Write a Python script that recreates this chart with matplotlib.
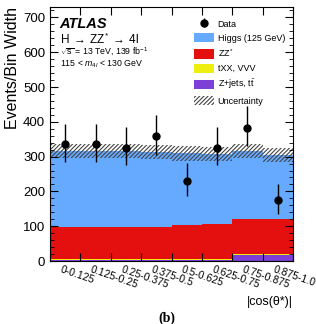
import matplotlib
matplotlib.use("Agg")
import matplotlib.pyplot as plt
import numpy as np
from matplotlib.patches import Patch
from matplotlib.ticker import MultipleLocator

plt.rcParams["font.family"] = ["Liberation Sans", "DejaVu Sans"]
plt.rcParams["mathtext.fontset"] = "custom"
plt.rcParams["mathtext.rm"] = "Liberation Sans"
plt.rcParams["mathtext.it"] = "Liberation Sans:italic"
plt.rcParams["hatch.color"] = "#444444"
plt.rcParams["hatch.linewidth"] = 0.8

# |cos(theta*)| bins
bin_labels = ["0-0.125", "0.125-0.25", "0.25-0.375", "0.375-0.5",
              "0.5-0.625", "0.625-0.75", "0.75-0.875", "0.875-1.0"]

# stacked predictions (events / bin width)
zjets = [3, 3, 3, 3, 3, 3, 17, 17]
txx = [2, 2, 2, 2, 2, 2, 2, 2]
zz = [92, 92, 92, 92, 99, 101, 102, 102]
higgs = [220, 220, 219, 215, 205, 202, 194, 184]
unc = [20, 20, 20, 20, 21, 21, 20, 20]

# data with asymmetric errors
data = [335, 335, 326, 358, 230, 326, 382, 174]
data_up = [60, 60, 60, 62, 52, 60, 63, 46]
data_dn = [50, 50, 50, 53, 44, 50, 52, 38]

c_higgs = "#66aaff"
c_zz = "#e3100f"
c_txx = "#eeee11"
c_zjets = "#7d3fd6"

fig = plt.figure(figsize=(3.16, 3.24), dpi=100)
ax = fig.add_axes([50 / 316, 1 - 261 / 324, 243 / 316, 254 / 324])

x = np.arange(len(bin_labels)) + 0.5
bottom = np.zeros(len(x))
for vals, col in [(zjets, c_zjets), (txx, c_txx), (zz, c_zz), (higgs, c_higgs)]:
    ax.bar(x, vals, width=1.0, bottom=bottom, color=col, linewidth=0)
    bottom = bottom + np.array(vals)

total = bottom
unc = np.array(unc)
ax.bar(x, 2 * unc, width=1.0, bottom=total - unc, fill=False,
       hatch="////////", linewidth=0, edgecolor="#444444")

eb = ax.errorbar(x, data, yerr=[data_dn, data_up], fmt="o", color="black",
                 markersize=5, elinewidth=1.0, capsize=0)

ax.set_xlim(0, len(x))
ax.set_ylim(0, 730)
ax.set_xticks(np.arange(len(x) + 1))
ax.set_xticklabels([])
for xi, lab in zip(x, bin_labels):
    ax.text(xi - 0.1, -10, lab, rotation=-19, rotation_mode="anchor",
            ha="left", va="top", fontsize=7.5)
ax.yaxis.set_major_locator(MultipleLocator(100))
ax.yaxis.set_minor_locator(MultipleLocator(20))
ax.tick_params(axis="both", which="both", direction="in", top=True, right=True)
ax.tick_params(axis="both", which="major", length=6, labelsize=9.5)
ax.tick_params(axis="y", which="minor", length=3)
ax.set_ylabel("Events/Bin Width", fontsize=11.5, loc="top", labelpad=2)

fig.text(293 / 316, 1 - 302 / 324, "|cos(θ*)|", ha="right",
         va="center", fontsize=9)
fig.text(167 / 316, 1 - 318 / 324, "(b)", ha="center", va="center",
         fontsize=10, fontweight="bold", family="Liberation Serif")

ax.text(0.04, 0.932, "ATLAS", transform=ax.transAxes, fontsize=10.5,
        fontweight="bold", style="italic", va="center")
ax.text(0.04, 0.872,
        r"$\mathrm{H}\;\rightarrow\;\mathrm{ZZ}^{*}\;\rightarrow\;\mathrm{4l}$",
        transform=ax.transAxes, fontsize=8.5, va="center")
ax.text(0.04, 0.822, r"$\sqrt{\rm s}$ = 13 TeV, 139 fb$^{-1}$",
        transform=ax.transAxes, fontsize=6.3, va="center")
ax.text(0.04, 0.776, r"115 < $m_{4l}$ < 130 GeV",
        transform=ax.transAxes, fontsize=6.3, va="center")

handles = [
    eb,
    Patch(facecolor=c_higgs),
    Patch(facecolor=c_zz),
    Patch(facecolor=c_txx),
    Patch(facecolor=c_zjets),
    Patch(facecolor="white", hatch="////////", edgecolor="#444444", linewidth=0),
]
labels = ["Data", "Higgs (125 GeV)", r"ZZ$^{*}$", "tXX, VVV",
          r"Z+jets, t$\bar{\rm t}$", "Uncertainty"]
ax.legend(handles, labels, loc="upper left", bbox_to_anchor=(0.56, 0.985),
          frameon=False, fontsize=6.5, handlelength=2.2, handleheight=1.2,
          labelspacing=0.5, handletextpad=0.4)

fig.savefig("out.png", dpi=100)
